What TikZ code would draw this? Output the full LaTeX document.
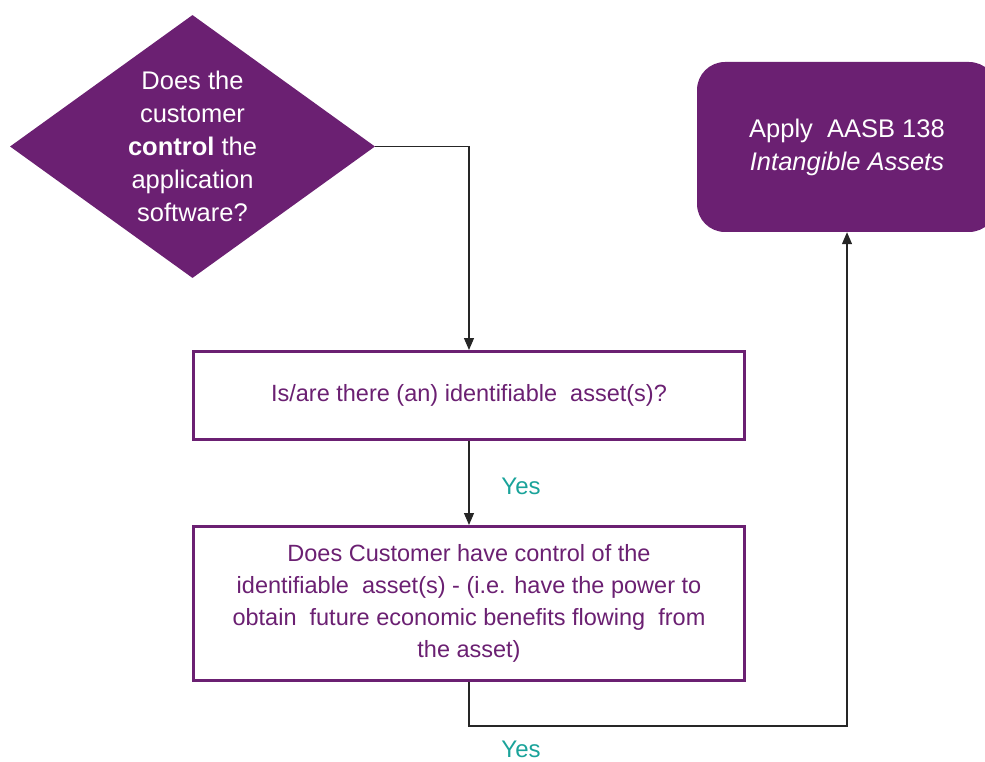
\documentclass[tikz,border=0pt]{standalone}
\usepackage{fontspec}
\setmainfont{Liberation Sans}
\usetikzlibrary{shapes.geometric,arrows.meta}
\definecolor{brand}{RGB}{107,32,114}
\definecolor{yescol}{RGB}{26,163,154}
\begin{document}
\begin{tikzpicture}[x=1pt,y=-1pt,
  decision/.style={diamond,fill=brand,draw=none,inner sep=0pt,
    minimum width=365pt,minimum height=263pt},
  outcome/.style={rectangle,fill=brand,draw=none,rounded corners=28pt,
    minimum width=300pt,minimum height=170pt},
  whitetext/.style={text=white,align=center,font=\fontsize{25.5}{33}\selectfont},
  question/.style={rectangle,draw=brand,line width=3pt,fill=white,
    text=brand,align=center,minimum width=551pt},
  flow/.style={draw=black!85,line width=1.2pt,
    -{Triangle[length=12pt,width=10pt]}},
  answer/.style={text=yescol,font=\fontsize{24}{28}\selectfont}]
\useasboundingbox (0,0) rectangle (985,762);

% decision diamond and its question
\node[decision] (q1) at (192.5,146.5) {};
\node[whitetext] (q1t) at (q1.center)
  {Does the\\customer\\\textbf{control} the\\application\\software?};

% outcome box on the right
\node[outcome] (apply) at (847,147) {};
\node[whitetext] (applyt) at (apply.center)
  {Apply\ \ AASB 138\\\textit{Intangible Assets}};

% question boxes
\node[question,minimum height=88pt,font=\fontsize{23.5}{33}\selectfont]
  (ident) at (469,395.5) {Is/are there (an) identifiable\ \ asset(s)?};
\node[question,minimum height=154pt,font=\fontsize{23.5}{32}\selectfont]
  (ctrl) at (469,603.5)
  {Does Customer have control of the\\identifiable\ \ asset(s) - (i.e. have the power to\\obtain\ \ future economic benefits flowing\ \ from\\the asset)};

% connectors
\draw[flow] (q1.east) -| (ident.north);
\draw[flow] (ident.south) -- (ctrl.north);
\coordinate (turn) at (469,726);
\draw[flow] (ctrl.south) -- (turn) -| (apply.south);

% answer labels
\node[answer] (yes1) at (521,486) {Yes};
\node[answer] (yes2) at (521,749) {Yes};
\end{tikzpicture}
\end{document}
